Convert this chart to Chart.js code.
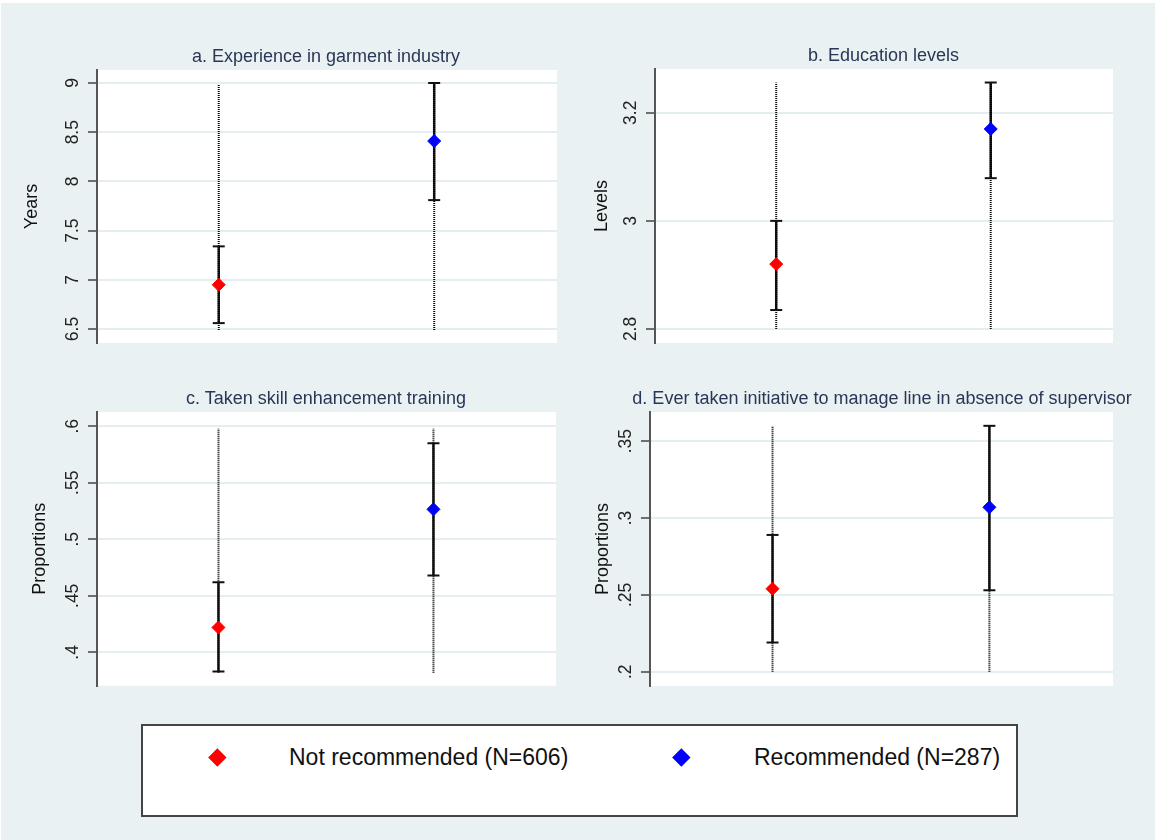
<!DOCTYPE html>
<html>
<head>
<meta charset="utf-8">
<script src="https://cdn.jsdelivr.net/npm/chart.js@4.4.1/dist/chart.umd.min.js"></script>
<style>
  html, body { margin: 0; padding: 0; background: #fff; }
  #page { position: absolute; left: 1px; top: 3px; width: 1154px; height: 837px; background: #e9f1f3; }
  canvas { position: absolute; }
  .ptitle { position: absolute; width: 600px; text-align: center; font-family: "Liberation Sans", Arial, sans-serif;
    font-size: 18px; line-height: 22px; color: #2a3656; white-space: nowrap; }
  #legendBox { position: absolute; left: 141px; top: 724px; width: 877px; height: 93px; box-sizing: border-box;
    background: #fff; border: 2px solid #444; }
  .key { position: absolute; width: 12.7px; height: 12.7px; transform: rotate(45deg); }
  .lab { position: absolute; font-family: "Liberation Sans", Arial, sans-serif; font-size: 23px; line-height: 28px; color: #111; white-space: nowrap; }
</style>
</head>
<body>
<div id="page"></div>
<canvas id="pa" width="600" height="360" style="left:0px;top:0px"></canvas>
<canvas id="pb" width="595" height="360" style="left:560px;top:0px"></canvas>
<canvas id="pc" width="600" height="340" style="left:0px;top:360px"></canvas>
<canvas id="pd" width="595" height="340" style="left:560px;top:360px"></canvas>
<div id="titles"></div>
<div id="legendBox"></div>
<div id="legend"></div>
<script>
const FONT = '"Liberation Sans", Arial, sans-serif';

// groups
const groups = ['Not recommended (N=606)', 'Recommended (N=287)'];
const groupX = [1, 2];
const groupColors = ['#ff0000', '#0000ff'];

// a. experience (years)
const meanA = [6.95, 8.41];
const loA = [6.56, 7.81];
const hiA = [7.34, 9.00];
const spanA = [6.49, 8.99];
const ticksA = [6.5, 7, 7.5, 8, 8.5, 9];
const tickLabelsA = ['6.5', '7', '7.5', '8', '8.5', '9'];

// b. education levels
const meanB = [2.920, 3.170];
const loB = [2.835, 3.079];
const hiB = [3.000, 3.256];
const spanB = [2.80, 3.256];
const ticksB = [2.8, 3, 3.2];
const tickLabelsB = ['2.8', '3', '3.2'];

// c. skill training (proportions)
const meanC = [0.422, 0.5265];
const loC = [0.383, 0.468];
const hiC = [0.462, 0.585];
const spanC = [0.382, 0.598];
const ticksC = [0.4, 0.45, 0.5, 0.55, 0.6];
const tickLabelsC = ['.4', '.45', '.5', '.55', '.6'];

// d. initiative (proportions)
const meanD = [0.254, 0.307];
const loD = [0.219, 0.253];
const hiD = [0.289, 0.360];
const spanD = [0.200, 0.360];
const ticksD = [0.2, 0.25, 0.3, 0.35];
const tickLabelsD = ['.2', '.25', '.3', '.35'];

const plotBg = {
  id: 'plotBg',
  beforeDraw(chart) {
    const { ctx, chartArea: a } = chart;
    ctx.save();
    ctx.fillStyle = '#fff';
    ctx.fillRect(a.left, a.top, a.width, a.height);
    ctx.restore();
  }
};

function panel(id, title, yTitle, mean, lo, hi, span, ticks, labels, yMin, yMax, lay) {
  const ds = [];
  groupX.forEach((gx, i) => {
    ds.push({ type: 'scatter', label: groups[i], data: [{ x: gx, y: mean[i] }], pointStyle: 'rectRot',
      pointRadius: 6.5, backgroundColor: groupColors[i], borderColor: groupColors[i], borderWidth: 1, order: 0 });
    ds.push({ type: 'scatter', data: [{ x: gx, y: lo[i] }, { x: gx, y: hi[i] }], pointStyle: 'line',
      pointRadius: 6, borderColor: '#111', borderWidth: 2, order: 1 });
    ds.push({ type: 'line', data: [{ x: gx, y: span[0] }, { x: gx, y: span[1] }], borderColor: '#000',
      borderWidth: 2, borderDash: [1, 1], pointRadius: 0, order: 2 });
    ds.push({ type: 'line', data: [{ x: gx, y: lo[i] }, { x: gx, y: hi[i] }], borderColor: '#1a1a1a',
      borderWidth: 2.5, pointRadius: 0, order: 3 });
  });

  new Chart(document.getElementById(id), {
    type: 'scatter',
    data: { datasets: ds },
    options: {
      responsive: false,
      animation: false,
      events: [],
      layout: { padding: { left: 0, top: lay.top, right: lay.right, bottom: lay.bottom } },
      plugins: {
        legend: { display: false },
        tooltip: { enabled: false }
      },
      scales: {
        x: { type: 'linear', display: false, min: 0.435, max: 2.57 },
        y: {
          type: 'linear', min: yMin, max: yMax,
          afterBuildTicks: s => { s.ticks = ticks.map(v => ({ value: v })); },
          afterFit: s => { s.width = lay.axisW; },
          ticks: { minRotation: 90, maxRotation: 90, crossAlign: 'center', padding: 3, color: '#222',
            font: { family: FONT, size: 17.5 }, callback: (v, i) => labels[i] },
          grid: { color: '#e4edf0', lineWidth: 2, tickLength: 9, tickColor: '#444', tickWidth: 1.5 },
          border: { display: true, color: '#555', width: 2 },
          title: { display: true, text: yTitle, color: '#111', font: { family: FONT, size: 18 },
            padding: { top: lay.yTitlePad, bottom: 0 } }
        }
      }
    },
    plugins: [plotBg]
  });

  // panel heading, centred over the plot region
  const t = document.createElement('div');
  t.className = 'ptitle';
  t.textContent = title;
  t.style.left = (lay.titleX - 300) + 'px';
  t.style.top = (lay.titleY - 11) + 'px';
  document.getElementById('titles').appendChild(t);
}

panel('pa', 'a. Experience in garment industry', 'Years', meanA, loA, hiA, spanA, ticksA, tickLabelsA, 6.358, 9.132,
  { top: 70, right: 43, bottom: 17, axisW: 97, yTitlePad: 21.7, titleX: 326, titleY: 56 });
panel('pb', 'b. Education levels', 'Levels', meanB, loB, hiB, spanB, ticksB, tickLabelsB, 2.774, 3.281,
  { top: 69, right: 42, bottom: 17, axisW: 95, yTitlePad: 31.7, titleX: 883.5, titleY: 55 });
panel('pc', 'c. Taken skill enhancement training', 'Proportions', meanC, loC, hiC, spanC, ticksC, tickLabelsC, 0.3705, 0.6126,
  { top: 52, right: 44, bottom: 14.3, axisW: 97, yTitlePad: 29.2, titleX: 326, titleY: 398 });
panel('pd', 'd. Ever taken initiative to manage line in absence of supervisor', 'Proportions', meanD, loD, hiD, spanD, ticksD, tickLabelsD, 0.1907, 0.369,
  { top: 52, right: 42, bottom: 14, axisW: 90, yTitlePad: 32.5, titleX: 882, titleY: 398 });

// legend
const legendKeyX = [217, 681];
const legendTextX = [289, 754];
const legendY = 757;
const leg = document.getElementById('legend');
groups.forEach((g, i) => {
  const k = document.createElement('div');
  k.className = 'key';
  k.style.background = groupColors[i];
  k.style.left = (legendKeyX[i] - 6.35) + 'px';
  k.style.top = (legendY - 6.35) + 'px';
  leg.appendChild(k);
  const t = document.createElement('div');
  t.className = 'lab';
  t.textContent = g;
  t.style.left = legendTextX[i] + 'px';
  t.style.top = (legendY - 14) + 'px';
  leg.appendChild(t);
});
</script>
</body>
</html>
